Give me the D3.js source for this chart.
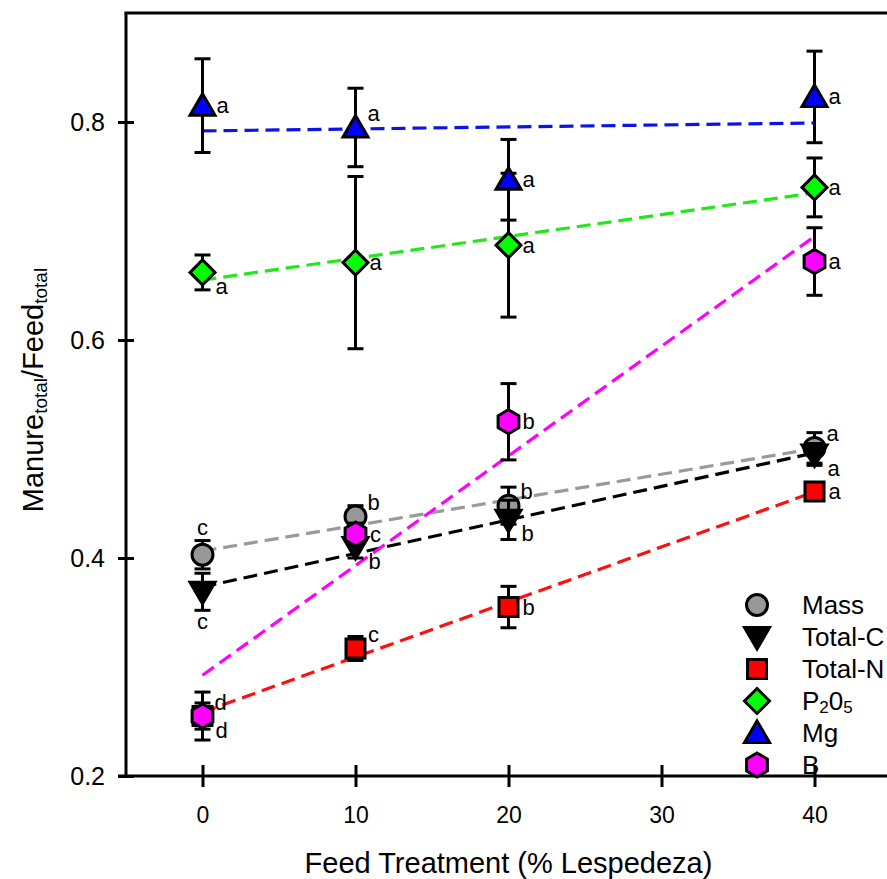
<!DOCTYPE html>
<html>
<head>
<meta charset="utf-8">
<script src="https://cdn.jsdelivr.net/npm/d3@7"></script>
<style>
  body { margin: 0; background: #fff; }
  text { font-family: "Liberation Sans", Arial, sans-serif; fill: #000; }
</style>
</head>
<body>
<svg width="887" height="879"></svg>
<script>
// feed treatment levels (% lespedeza)
var treatments = [0, 10, 20, 40];

// manure/feed ratios, standard errors and letter groups
var massMean = [0.403, 0.438, 0.448, 0.501];
var massErr = [0.013, 0.010, 0.017, 0.014];
var massLetters = ["c", "b", "b", "a"];

var totalCMean = [0.369, 0.410, 0.435, 0.495];
var totalCErr = [0.017, 0.010, 0.018, 0.010];
var totalCLetters = ["c", "b", "b", "a"];

var totalNMean = [0.255, 0.317, 0.355, 0.461];
var totalNErr = [0.012, 0.011, 0.019, 0.006];
var totalNLetters = ["d", "c", "b", "a"];

var p2o5Mean = [0.662, 0.671, 0.687, 0.740];
var p2o5Err = [0.016, 0.079, 0.066, 0.027];
var p2o5Letters = ["a", "a", "a", "a"];

var mgMean = [0.815, 0.795, 0.747, 0.823];
var mgErr = [0.043, 0.036, 0.037, 0.042];
var mgLetters = ["a", "a", "a", "a"];

var bMean = [0.255, 0.422, 0.525, 0.672];
var bErr = [0.022, 0.010, 0.035, 0.031];
var bLetters = ["d", "c", "b", "a"];

var xTicks = [0, 10, 20, 30, 40];
var yTicks = [0.2, 0.4, 0.6, 0.8];

/* where each letter sits next to its symbol */
var letterSpot = {
  r: [20, 0], ur: [18, -14], lr: [19, 14], above: [0, -27], below: [0, 30]
};

var series = [
  {name: "Mass", mean: massMean, err: massErr, letters: massLetters,
    spots: ["above", "ur", "ur", "ur"], shape: "circle", fill: "#989898", line: "#9a9a9a"},
  {name: "Total-C", mean: totalCMean, err: totalCErr, letters: totalCLetters,
    spots: ["below", "lr", "lr", "lr"], shape: "tridown", fill: "#000", line: "#000"},
  {name: "Total-N", mean: totalNMean, err: totalNErr, letters: totalNLetters,
    spots: ["ur", "ur", "r", "r"], shape: "square", fill: "#ff0000", line: "#ff1010"},
  {name: "P2O5", mean: p2o5Mean, err: p2o5Err, letters: p2o5Letters,
    spots: ["lr", "r", "r", "r"], shape: "diamond", fill: "#00ff00", line: "#22e81a"},
  {name: "Mg", mean: mgMean, err: mgErr, letters: mgLetters,
    spots: ["r", "ur", "r", "r"], shape: "triup", fill: "#0000ff", line: "#0a14e6"},
  {name: "B", mean: bMean, err: bErr, letters: bLetters,
    spots: ["lr", "r", "r", "r"], shape: "hexagon", fill: "#ff00ff", line: "#ff00ff"}
];

var svg = d3.select("svg");

var xScale = d3.scaleLinear().domain([-5, 45]).range([126, 891]);
var yScale = d3.scaleLinear().domain([0.2, 0.9]).range([776, 13]);

function shapePath(shape) {
  switch (shape) {
    case "circle": return d3.symbol().type(d3.symbolCircle).size(Math.PI * 10.5 * 10.5)();
    case "square": return "M-9.5,-9.5H9.5V9.5H-9.5Z";
    case "diamond": return "M0,-12.5L12.5,0L0,12.5L-12.5,0Z";
    case "tridown": return "M-12.5,-9.5L12.5,-9.5L0,12Z";
    case "triup": return "M-12.5,9.5L12.5,9.5L0,-12Z";
    case "hexagon":
      return "M0,-12L10.4,-6L10.4,6L0,12L-10.4,6L-10.4,-6Z";
  }
}

// regression lines (least squares through the means)
var line = d3.line()
  .x(function(d) { return xScale(d.x); })
  .y(function(d) { return yScale(d.y); });

series.forEach(function(s) {
  var mx = d3.mean(treatments), my = d3.mean(s.mean);
  var sxy = d3.sum(treatments, function(x, i) { return (x - mx) * (s.mean[i] - my); });
  var sxx = d3.sum(treatments, function(x) { return (x - mx) * (x - mx); });
  var slope = sxy / sxx, icpt = my - slope * mx;
  var ends = [0, 40].map(function(x) { return {x: x, y: icpt + slope * x}; });
  svg.append("path")
    .attr("d", line(ends))
    .attr("fill", "none")
    .attr("stroke", s.line)
    .attr("stroke-width", 3.2)
    .attr("stroke-dasharray", "14,7");
});

// error bars and symbols, series by series
series.forEach(function(s) {
  var g = svg.append("g").attr("class", "series");
  var pts = treatments.map(function(x, i) {
    return {x: x, y: s.mean[i], e: s.err[i], letter: s.letters[i], spot: s.spots[i]};
  });

  var eb = g.selectAll(".err").data(pts).enter().append("g")
    .attr("stroke", "#000").attr("stroke-width", 3);
  eb.append("line")
    .attr("x1", function(d) { return xScale(d.x); })
    .attr("x2", function(d) { return xScale(d.x); })
    .attr("y1", function(d) { return yScale(d.y - d.e); })
    .attr("y2", function(d) { return yScale(d.y + d.e); });
  [-1, 1].forEach(function(sign) {
    eb.append("line")
      .attr("x1", function(d) { return xScale(d.x) - 8; })
      .attr("x2", function(d) { return xScale(d.x) + 8; })
      .attr("y1", function(d) { return yScale(d.y + sign * d.e); })
      .attr("y2", function(d) { return yScale(d.y + sign * d.e); });
  });

  g.selectAll(".mark").data(pts).enter().append("path")
    .attr("d", shapePath(s.shape))
    .attr("transform", function(d) { return "translate(" + xScale(d.x) + "," + yScale(d.y) + ")"; })
    .attr("fill", s.fill)
    .attr("stroke", "#000")
    .attr("stroke-width", 3)
    .attr("stroke-linejoin", "miter");

  g.selectAll(".letter").data(pts).enter().append("text")
    .attr("x", function(d) { return xScale(d.x) + letterSpot[d.spot][0]; })
    .attr("y", function(d) { return yScale(d.y) + letterSpot[d.spot][1]; })
    .attr("text-anchor", "middle")
    .attr("dominant-baseline", "central")
    .style("font-size", "22px")
    .text(function(d) { return d.letter; });
});

// axes
var xAxis = svg.append("g")
  .attr("transform", "translate(0," + yScale(0.2) + ")")
  .call(d3.axisBottom(xScale).tickValues(xTicks).tickSize(11).tickPadding(0).tickFormat(d3.format("d")));
xAxis.select(".domain").remove();
xAxis.selectAll(".tick line").attr("y1", -11).attr("stroke-width", 3);
xAxis.selectAll(".tick text").attr("y", 39).attr("dy", "0.35em")
  .style("font-size", "23px").style("font-family", "'Liberation Sans', Arial, sans-serif");

var yAxis = svg.append("g")
  .attr("transform", "translate(" + xScale(-5) + ",0)")
  .call(d3.axisLeft(yScale).tickValues(yTicks).tickSize(8).tickFormat(d3.format(".1f")));
yAxis.select(".domain").remove();
yAxis.selectAll(".tick line").attr("x1", 8).attr("stroke-width", 3);
yAxis.selectAll(".tick text").attr("x", -21).attr("dy", "0.35em")
  .style("font-size", "25px").style("font-family", "'Liberation Sans', Arial, sans-serif");

// frame: left, bottom, top
svg.append("line").attr("x1", xScale(-5)).attr("x2", xScale(-5))
  .attr("y1", yScale(0.9)).attr("y2", yScale(0.2) + 1.5)
  .attr("stroke", "#000").attr("stroke-width", 3);
svg.append("line").attr("x1", xScale(-5) - 8).attr("x2", 887)
  .attr("y1", yScale(0.2)).attr("y2", yScale(0.2))
  .attr("stroke", "#000").attr("stroke-width", 3);
svg.append("line").attr("x1", xScale(-5) - 1.5).attr("x2", 887)
  .attr("y1", yScale(0.9)).attr("y2", yScale(0.9))
  .attr("stroke", "#000").attr("stroke-width", 3);

// axis titles
svg.append("text")
  .attr("x", xScale(20)).attr("y", 863)
  .attr("text-anchor", "middle").attr("dominant-baseline", "central")
  .style("font-size", "29px")
  .text("Feed Treatment (% Lespedeza)");

var yt = svg.append("text")
  .attr("transform", "translate(33,390) rotate(-90)")
  .attr("text-anchor", "middle")
  .attr("dominant-baseline", "central")
  .style("font-size", "29px");
yt.append("tspan").text("Manure");
yt.append("tspan").attr("dy", 7).style("font-size", "19px").text("total");
yt.append("tspan").attr("dy", -7).text("/Feed");
yt.append("tspan").attr("dy", 7).style("font-size", "19px").text("total");

// legend
var legend = svg.append("g").attr("transform", "translate(757,605)");
var row = legend.selectAll(".row").data(series).enter().append("g")
  .attr("transform", function(d, i) { return "translate(0," + i * 32 + ")"; });
row.append("path")
  .attr("d", function(d) { return shapePath(d.shape); })
  .attr("fill", function(d) { return d.fill; })
  .attr("stroke", "#000").attr("stroke-width", 3);
row.each(function(d) {
  var t = d3.select(this).append("text")
    .attr("x", 45).attr("dominant-baseline", "central")
    .style("font-size", "26px");
  if (d.name === "P2O5") {
    t.append("tspan").text("P");
    t.append("tspan").attr("dy", 6).style("font-size", "17px").text("2");
    t.append("tspan").attr("dy", -6).text("0");
    t.append("tspan").attr("dy", 6).style("font-size", "17px").text("5");
  } else {
    t.text(d.name);
  }
});
</script>
</body>
</html>
